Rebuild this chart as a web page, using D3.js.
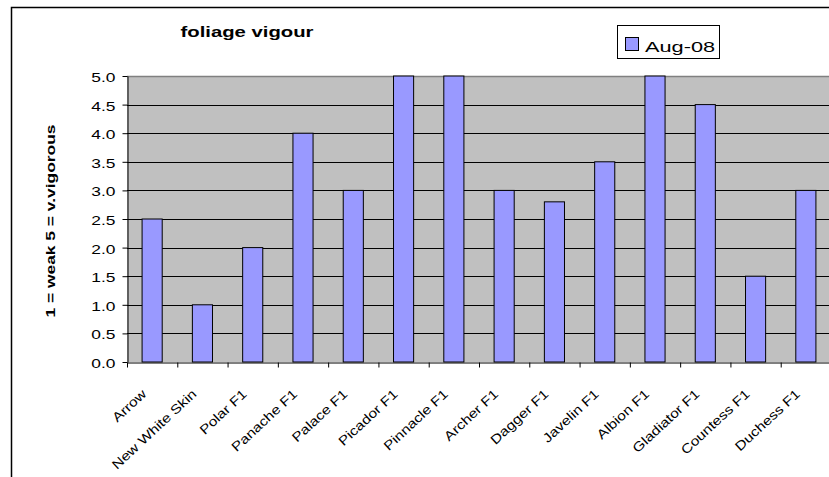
<!DOCTYPE html>
<html lang="en">
<head>
    <meta charset="UTF-8">
    <title>foliage vigour</title>
    <script src="https://cdn.jsdelivr.net/npm/d3@7"></script>
    <style>
      body { margin: 0; background: #fff; }
      text { font-family: "Liberation Sans", Arial, sans-serif; fill: #000; }
    </style>
</head>
<body>
    <script>

      // chart data
      const varieties = ["Arrow", "New White Skin", "Polar F1", "Panache F1", "Palace F1", "Picador F1",
        "Pinnacle F1", "Archer F1", "Dagger F1", "Javelin F1", "Albion F1", "Gladiator F1",
        "Countess F1", "Duchess F1"];
      const vigour = [2.5, 1.0, 2.0, 4.0, 3.0, 5.0, 5.0, 3.0, 2.8, 3.5, 5.0, 4.5, 1.5, 3.0];
      const yTicks = [0, 0.5, 1.0, 1.5, 2.0, 2.5, 3.0, 3.5, 4.0, 4.5, 5.0];
      const seriesName = "Aug-08";

      // text in the picture is stretched along its baseline
      const stretch = 1.45;
      const labelStretch = 1.2;

      const width = 829, height = 477;
      const plot = {left: 127, top: 76, right: 831, bottom: 362};

      const svg = d3.select("body").append("svg")
        .attr("width", width).attr("height", height);

      // outer chart frame (cropped on right/bottom)
      svg.append("path")
        .attr("d", `M11.5,${height + 2}V7.5H${width + 2}`)
        .attr("fill", "none").attr("stroke", "#000").attr("stroke-width", 1.5);

      const x = d3.scaleBand().domain(varieties)
        .range([plot.left, plot.right]).paddingInner(0.6).paddingOuter(0.3);
      const xEdge = d3.scaleLinear().domain([0, varieties.length]).range([plot.left, plot.right]);
      const y = d3.scaleLinear().domain([0, 5]).range([plot.bottom, plot.top]);

      // plot area
      svg.append("rect")
        .attr("x", plot.left).attr("y", plot.top)
        .attr("width", plot.right - plot.left).attr("height", plot.bottom - plot.top)
        .attr("fill", "#c0c0c0");

      // gridlines
      svg.append("g").selectAll("line")
        .data(yTicks.filter(d => d > 0 && d < 5))
        .enter().append("line")
        .attr("x1", plot.left).attr("x2", plot.right)
        .attr("y1", d => Math.round(y(d)) + 0.5).attr("y2", d => Math.round(y(d)) + 0.5)
        .attr("stroke", "#000");

      // top border of plot
      svg.append("line")
        .attr("x1", plot.left).attr("x2", plot.right)
        .attr("y1", plot.top + 0.5).attr("y2", plot.top + 0.5)
        .attr("stroke", "#808080").attr("stroke-width", 1.5);

      // bars
      svg.append("g").selectAll("rect")
        .data(vigour)
        .enter().append("rect")
        .attr("x", (d, i) => x(varieties[i]))
        .attr("y", d => y(d))
        .attr("width", x.bandwidth())
        .attr("height", d => y(0) - y(d))
        .attr("fill", "#9999ff")
        .attr("stroke", "#000")
        .attr("stroke-width", 1);

      // y axis
      const yAxis = svg.append("g")
        .attr("transform", `translate(${plot.left + 0.5},0)`)
        .call(d3.axisLeft(y).tickValues(yTicks).tickFormat(d3.format(".1f")).tickSize(5).tickSizeOuter(0));
      yAxis.select(".domain").attr("stroke", "#000");
      yAxis.selectAll(".tick line").attr("stroke", "#000");
      yAxis.selectAll(".tick text")
        .attr("x", -12 / stretch).attr("dy", "0.45em")
        .attr("transform", `scale(${stretch},1)`)
        .style("font-size", "12px").style("font-family", "Liberation Sans, Arial, sans-serif");

      // x axis: ticks at category edges
      const xAxis = svg.append("g")
        .attr("transform", `translate(0,${plot.bottom + 0.5})`)
        .call(d3.axisBottom(xEdge).tickValues(d3.range(varieties.length + 1)).tickFormat("").tickSize(5).tickSizeOuter(0));
      xAxis.select(".domain").attr("stroke", "#000");
      xAxis.selectAll(".tick line").attr("stroke", "#000");

      // category labels, rotated
      svg.append("g").selectAll("text")
        .data(varieties)
        .enter().append("text")
        .attr("transform", d => `translate(${x(d) + x.bandwidth() / 2 - 5},395) rotate(-43) scale(${labelStretch},1)`)
        .attr("text-anchor", "end")
        .style("font-size", "13px")
        .text(d => d);

      // title
      svg.append("text")
        .attr("transform", `translate(247,37) scale(${stretch},1)`)
        .attr("text-anchor", "middle")
        .style("font-size", "14px").style("font-weight", "bold")
        .text("foliage vigour");

      // y axis title
      svg.append("text")
        .attr("transform", `translate(55,221) rotate(-90) scale(${stretch},1)`)
        .attr("text-anchor", "middle")
        .style("font-size", "12px").style("font-weight", "bold")
        .text("1 = weak  5 = v.vigorous");

      // legend
      const legend = svg.append("g");
      legend.append("rect")
        .attr("x", 617.5).attr("y", 25.5).attr("width", 102).attr("height", 33)
        .attr("fill", "#fff").attr("stroke", "#000");
      legend.append("rect")
        .attr("x", 625.5).attr("y", 37.5).attr("width", 13).attr("height", 13)
        .attr("fill", "#9999ff").attr("stroke", "#000");
      legend.append("text")
        .attr("transform", `translate(645,52) scale(${stretch},1)`)
        .style("font-size", "15px")
        .text(seriesName);

    </script>
</body>
</html>
